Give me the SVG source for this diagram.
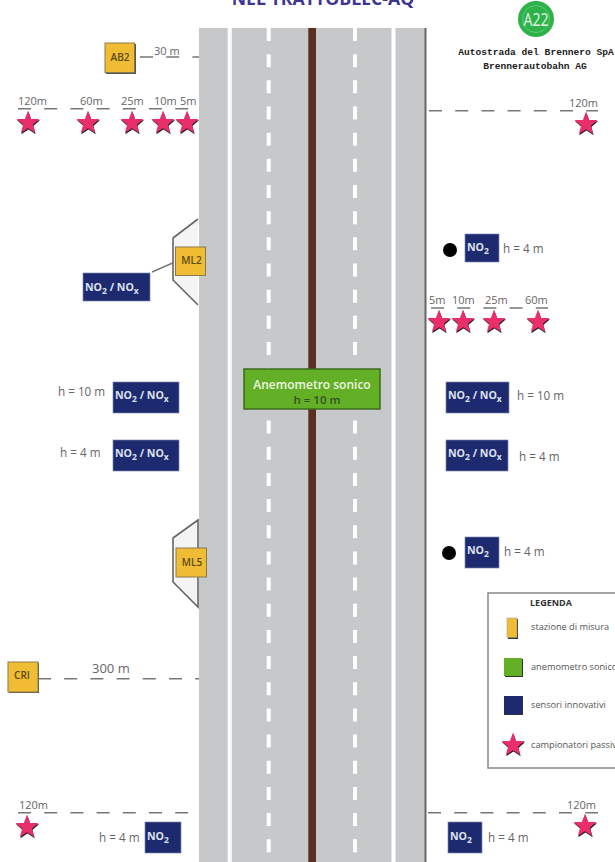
<svg xmlns="http://www.w3.org/2000/svg" width="615" height="862" viewBox="0 0 615 862">
<style>
text{font-family:"Open Sans","Noto Sans","Liberation Sans",sans-serif}
.road{fill:#c6c8ca}
.m{fill:none;stroke:#fff;stroke-width:4;stroke-dasharray:13 13.17}
.d{fill:none;stroke:#777;stroke-width:1.400;stroke-dasharray:13 13.2}
.t{fill:#666;font-size:11px}
.h{fill:#666;font-size:11.700px}
.y{fill:#f0bc33;stroke:#8a7a4a;stroke-width:1}
.sh{fill:#555}
.yt{fill:#5a4a18;font-size:10px;font-weight:600;text-anchor:middle}
.b{fill:#1d2a6f;stroke:#8088b0;stroke-width:.7}
.bt{fill:#dfe2f0;font-size:10.600px;font-weight:700}
.bs{font-size:8.500px}
.bay{fill:#f4f4f4}
.bl{fill:none;stroke:#666;stroke-width:1.600}
.lg{fill:#555;font-size:9.200px}
.mono{font-family:"Liberation Mono",monospace;font-size:9.600px;font-weight:700;fill:#222;text-anchor:middle}
</style>
<defs>
<path id="star" d="M0-12.500 3.100-4 11.500-3.900 4.900 1.700 7.200 10 0 5.200-7.200 10-4.900 1.700-11.500-3.900-3.100-4Z"/>
<g id="s"><use href="#star" fill="#222" transform="translate(.5 1.200)"/><use href="#star" fill="#e92e6a"/></g>
</defs>
<text x="323" y="5" text-anchor="middle" font-size="17.700" font-weight="700" fill="#3d3590">NEL TRATTOBLEC-AQ</text>
<g id="road">
<rect class="road" x="199" y="28" width="226" height="834"/>
<path d="M229.700 27V862M393.500 27V862" stroke="#fff" stroke-width="4" fill="none"/>
<path class="m" d="M268.700 28V862M355 28V862"/>
<rect x="308.300" y="28" width="7.700" height="834" fill="#5c2e22"/>
<path d="M425.500 28V862" stroke="#666" stroke-width="2"/>
</g>
<g id="connectors">
<path class="d" d="M140 57H199M18 108.700H190M429 110.700H598M431 308H548M38 678.700H199M18 812.700H190M428 812.700H598"/>
<path d="M152 272 175 262" stroke="#777" stroke-width="1.400"/>
</g>
<g id="bay-ml2"><path class="bay" d="M198 219 173 238V280L198 305Z"/><path class="bl" d="M198 219 173 238V280L198 305"/></g>
<g id="bay-ml5"><path class="bay" d="M198 520 173 538V582L198 607Z"/><path class="bl" d="M198 520 173 538V582L198 607Z"/></g>
<g id="ab2"><rect class="sh" x="106" y="44" width="30" height="30"/><rect class="y" x="105" y="43" width="29.500" height="29.500"/><text class="yt" x="120" y="61">AB2</text></g>
<g id="ml2"><rect class="y" x="175.500" y="247" width="30" height="28.500"/><text class="yt" x="191.500" y="264">ML2</text></g>
<g id="ml5"><rect class="y" x="176" y="548" width="30.500" height="29"/><text class="yt" x="192" y="566">ML5</text></g>
<g id="cri"><rect class="sh" x="9" y="663" width="30" height="30"/><rect class="y" x="8" y="662" width="30" height="30"/><text class="yt" x="22" y="679">CRI</text></g>
<g id="anemometro"><rect x="244" y="369" width="136" height="40" fill="#63b027" stroke="#3d6a1f" stroke-width="1.500"/><text x="312" y="389" text-anchor="middle" font-size="12" font-weight="600" fill="#eef6e0">Anemometro sonico</text><text x="317" y="404" text-anchor="middle" font-size="11.500" font-weight="600" fill="#33501c">h = 10 m</text></g>
<g id="nox-ml2"><rect class="b" x="83" y="273" width="67" height="28"/><text class="bt" x="85" y="291">NO<tspan class="bs" dy="3">2</tspan><tspan dy="-3"> / NO</tspan><tspan class="bs" dy="3">x</tspan></text></g>
<g id="nox-l10"><rect class="b" x="113" y="382" width="66" height="31"/><text class="bt" x="115" y="399">NO<tspan class="bs" dy="3">2</tspan><tspan dy="-3"> / NO</tspan><tspan class="bs" dy="3">x</tspan></text><text class="h" x="58" y="396">h = 10 m</text></g>
<g id="nox-l4"><rect class="b" x="113" y="440" width="66" height="31"/><text class="bt" x="115" y="457">NO<tspan class="bs" dy="3">2</tspan><tspan dy="-3"> / NO</tspan><tspan class="bs" dy="3">x</tspan></text><text class="h" x="60" y="457">h = 4 m</text></g>
<g id="nox-r10"><rect class="b" x="446" y="382" width="63" height="31"/><text class="bt" x="448" y="399">NO<tspan class="bs" dy="3">2</tspan><tspan dy="-3"> / NO</tspan><tspan class="bs" dy="3">x</tspan></text><text class="h" x="517" y="400">h = 10 m</text></g>
<g id="nox-r4"><rect class="b" x="446" y="440" width="62" height="31"/><text class="bt" x="448" y="457">NO<tspan class="bs" dy="3">2</tspan><tspan dy="-3"> / NO</tspan><tspan class="bs" dy="3">x</tspan></text><text class="h" x="519" y="461">h = 4 m</text></g>
<g id="no2-r1"><circle cx="450" cy="250" r="7" fill="#000"/><rect class="b" x="465" y="234" width="34" height="28"/><text class="bt" x="467" y="251">NO<tspan class="bs" dy="3">2</tspan></text><text class="h" x="503" y="253">h = 4 m</text></g>
<g id="no2-r2"><circle cx="449" cy="553" r="7" fill="#000"/><rect class="b" x="465" y="537" width="34" height="31"/><text class="bt" x="467" y="554">NO<tspan class="bs" dy="3">2</tspan></text><text class="h" x="504" y="556">h = 4 m</text></g>
<g id="no2-bl"><rect class="b" x="145" y="822" width="36" height="31"/><text class="bt" x="147" y="840">NO<tspan class="bs" dy="3">2</tspan></text><text class="h" x="99" y="842">h = 4 m</text></g>
<g id="no2-br"><rect class="b" x="448" y="822" width="34" height="31"/><text class="bt" x="450" y="840">NO<tspan class="bs" dy="3">2</tspan></text><text class="h" x="488" y="842">h = 4 m</text></g>
<g id="stars">
<use href="#s" x="28" y="123"/><use href="#s" x="88" y="123"/><use href="#s" x="132" y="123"/><use href="#s" x="163" y="123"/><use href="#s" x="187" y="123"/>
<use href="#s" x="586" y="124"/>
<use href="#s" x="439" y="322"/><use href="#s" x="463" y="322"/><use href="#s" x="494" y="322"/><use href="#s" x="538" y="322"/>
<use href="#s" x="27" y="827"/><use href="#s" x="585" y="826"/>
</g>
<g id="distance-labels">
<text class="t" x="18" y="105">120m</text><text class="t" x="80" y="105">60m</text><text class="t" x="121" y="105">25m</text><text class="t" x="154" y="105">10m</text><text class="t" x="180" y="105">5m</text>
<text class="t" x="154" y="55">30 m</text>
<text class="t" x="569" y="107">120m</text>
<text class="t" x="429" y="304">5m</text><text class="t" x="452" y="304">10m</text><text class="t" x="485" y="304">25m</text><text class="t" x="525" y="304">60m</text>
<text class="t" x="92" y="673" style="font-size:13px">300 m</text>
<text class="t" x="19" y="809">120m</text><text class="t" x="567" y="809">120m</text>
</g>
<g id="logo"><circle cx="536" cy="19" r="18" fill="#2db24a"/><circle cx="536" cy="19" r="13.500" fill="none" stroke="#5fc878" stroke-width="1"/><text x="536" y="26" text-anchor="middle" font-size="18" fill="#e6f5e6" textLength="25" lengthAdjust="spacingAndGlyphs">A22</text>
<text class="mono" x="536" y="55">Autostrada del Brennero SpA</text>
<text class="mono" x="535" y="69">Brennerautobahn AG</text></g>
<g id="legenda"><rect x="488" y="593" width="140" height="175" fill="#fff" stroke="#888" stroke-width="1.500"/>
<text x="530" y="606" font-size="9" font-weight="700" fill="#333">LEGENDA</text>
<rect x="508" y="619" width="10" height="20" fill="#333"/><rect x="507" y="618" width="10" height="19.500" fill="#f0bc33" stroke="#999" stroke-width=".5"/><text class="lg" x="531" y="630">stazione di misura</text>
<rect x="505" y="659" width="18" height="18" fill="#333"/><rect x="504" y="658" width="18" height="18" fill="#63b027"/><text class="lg" x="531" y="670">anemometro sonico</text>
<rect x="504" y="696" width="19" height="19" fill="#333"/><rect x="504" y="696" width="18" height="18" fill="#1d2a6f"/><text class="lg" x="531" y="708">sensori innovativi</text>
<use href="#s" x="513" y="745"/><text class="lg" x="531" y="748">campionatori passivi</text></g>
</svg>
